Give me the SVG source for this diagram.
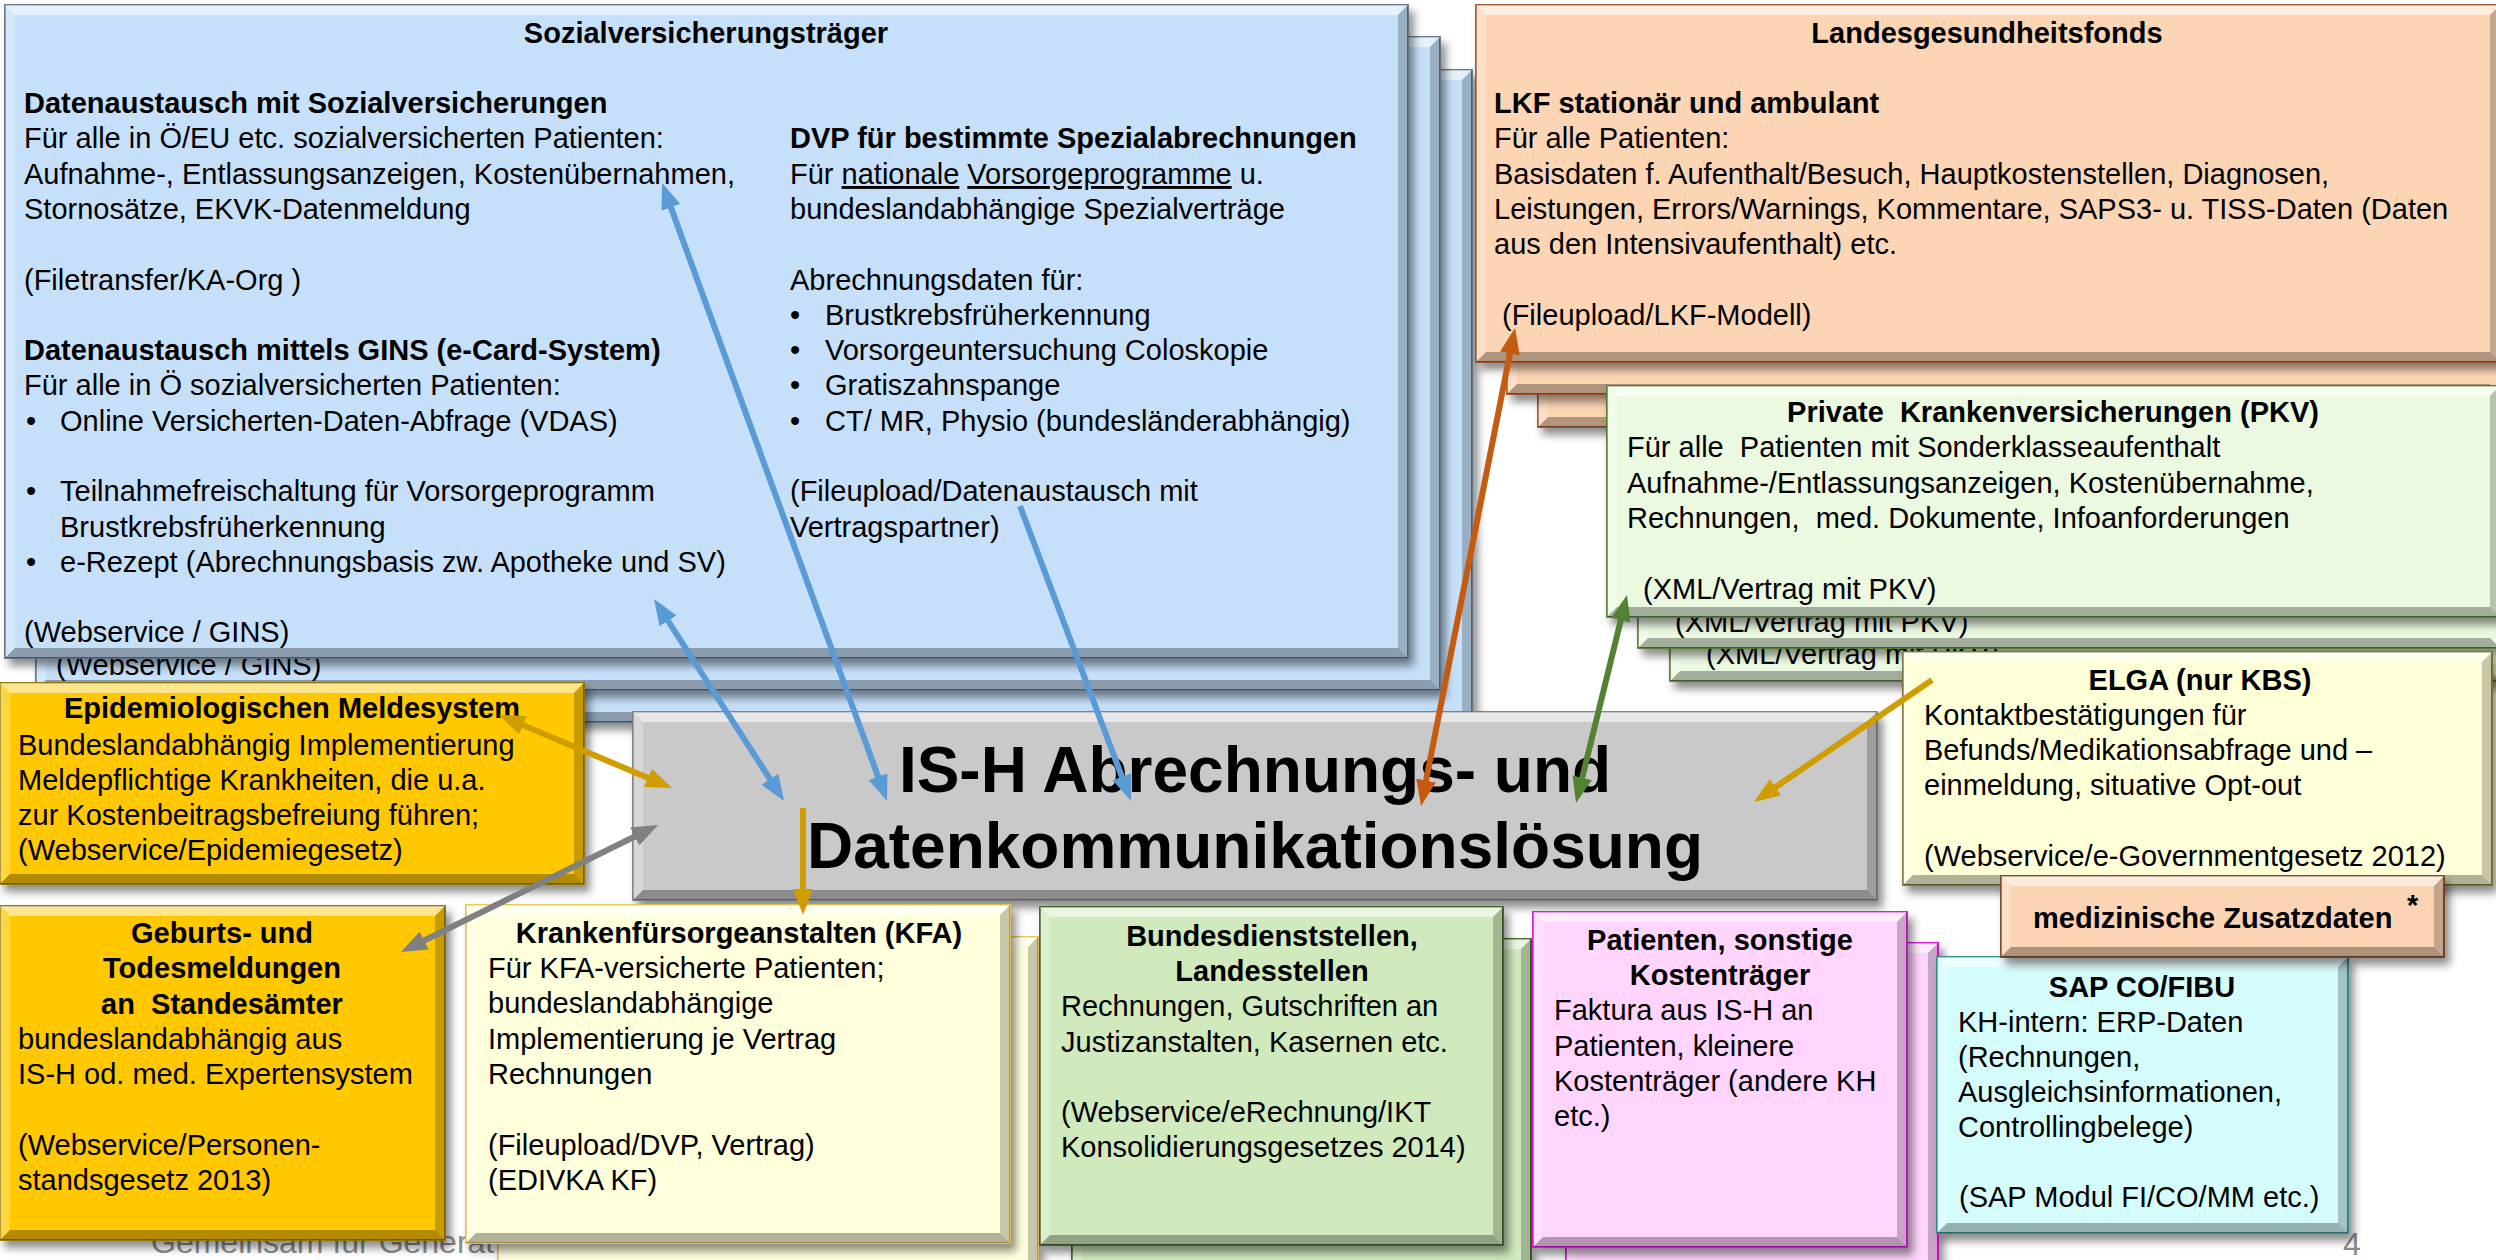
<svg xmlns="http://www.w3.org/2000/svg" width="2496" height="1260" viewBox="0 0 2496 1260">
<style>
svg{font-family:"Liberation Sans",Arial,sans-serif;font-size:29px}
text{fill:#000}
.b{font-weight:bold}
.c{text-anchor:middle}
.big{font-size:64px;font-weight:bold;text-anchor:middle}
.ft{fill:#8a8a8a;font-size:32px}
.box{stroke-width:1.8;filter:url(#sh)}
.bt{fill:#fff;opacity:.55}
.bl{fill:#fff;opacity:.25}
.br{fill:#000;opacity:.22}
.bb{fill:#000;opacity:.3}
.blue{fill:#C6E0F9;stroke:#5F6F80}
.org{fill:#FCD5B4;stroke:#9A4E26}
.grn{fill:#EBF9E1;stroke:#4E7A2E}
.ylw{fill:#FFFFD7;stroke:#7F6F30}
.med{fill:#FBD4B4;stroke:#7B3F1E}
.cyan{fill:#D5FCFC;stroke:#2D8C8C}
.pink{fill:#FFD5FD;stroke:#E000E0}
.dgrn{fill:#D0EABD;stroke:#355E20}
.kfa{fill:#FFFFDC;stroke:#E8C050}
.gold{fill:#FFC800;stroke:#8C7000}
.gray{fill:#C9C9C9;stroke:#7A7A7A}
.ln{fill:none;stroke-width:6}
.u{text-decoration:underline}
</style>
<defs>
<filter id="sh" x="-5%" y="-5%" width="115%" height="125%">
<feDropShadow dx="5" dy="7" stdDeviation="4" flood-color="#000" flood-opacity="0.45"/>
</filter>
<marker id="mBlue" viewBox="0 0 26 20" refX="8" refY="10" markerWidth="26" markerHeight="20" markerUnits="userSpaceOnUse" orient="auto-start-reverse"><path d="M0,0 L26,10 L0,20 z" fill="#5B9BD5"/></marker>
<marker id="mRust" viewBox="0 0 26 20" refX="8" refY="10" markerWidth="26" markerHeight="20" markerUnits="userSpaceOnUse" orient="auto-start-reverse"><path d="M0,0 L26,10 L0,20 z" fill="#C55A11"/></marker>
<marker id="mGreen" viewBox="0 0 26 20" refX="8" refY="10" markerWidth="26" markerHeight="20" markerUnits="userSpaceOnUse" orient="auto-start-reverse"><path d="M0,0 L26,10 L0,20 z" fill="#548235"/></marker>
<marker id="mGold" viewBox="0 0 26 20" refX="8" refY="10" markerWidth="26" markerHeight="20" markerUnits="userSpaceOnUse" orient="auto-start-reverse"><path d="M0,0 L26,10 L0,20 z" fill="#D09D00"/></marker>
<marker id="mGray" viewBox="0 0 26 20" refX="8" refY="10" markerWidth="26" markerHeight="20" markerUnits="userSpaceOnUse" orient="auto-start-reverse"><path d="M0,0 L26,10 L0,20 z" fill="#808080"/></marker>
</defs>

<rect x="0" y="0" width="2496" height="1260" fill="#fff"/>

<text class="ft" x="151" y="1253">Gemeinsam für Generat</text>
<text class="ft" x="2343" y="1255">4</text>

<!-- Sozialversicherungsträger stack -->
<g id="sv-stack3">
<rect class="box blue" x="67" y="70" width="1405" height="652"/>
<polygon class="bt" points="67,70 1472,70 1462,80 77,80"/>
<polygon class="bl" points="67,70 77,80 77,712 67,722"/>
<polygon class="br" points="1472,70 1472,722 1462,712 1462,80"/>
<polygon class="bb" points="67,722 1472,722 1462,712 77,712"/>
</g>
<g id="sv-stack2">
<rect class="box blue" x="36" y="37" width="1404" height="653"/>
<polygon class="bt" points="36,37 1440,37 1430,47 46,47"/>
<polygon class="bl" points="36,37 46,47 46,680 36,690"/>
<polygon class="br" points="1440,37 1440,690 1430,680 1430,47"/>
<polygon class="bb" points="36,690 1440,690 1430,680 46,680"/>
<text x="56" y="675">(Webservice / GINS)</text>
</g>
<g id="sozialversicherungstraeger">
<rect class="box blue" x="5" y="5" width="1403" height="653"/>
<polygon class="bt" points="5,5 1408,5 1398,15 15,15"/>
<polygon class="bl" points="5,5 15,15 15,648 5,658"/>
<polygon class="br" points="1408,5 1408,658 1398,648 1398,15"/>
<polygon class="bb" points="5,658 1408,658 1398,648 15,648"/>
<text class="b c" x="706" y="43">Sozialversicherungsträger</text>
<text class="b" x="24" y="113">Datenaustausch mit Sozialversicherungen</text>
<text x="24" y="148">Für alle in Ö/EU etc. sozialversicherten Patienten:</text>
<text x="24" y="184">Aufnahme-, Entlassungsanzeigen, Kostenübernahmen,</text>
<text x="24" y="219">Stornosätze, EKVK-Datenmeldung</text>
<text x="24" y="290">(Filetransfer/KA-Org )</text>
<text class="b" x="24" y="360">Datenaustausch mittels GINS (e-Card-System)</text>
<text x="24" y="395">Für alle in Ö sozialversicherten Patienten:</text>
<text x="26" y="431">•</text><text x="60" y="431">Online Versicherten-Daten-Abfrage (VDAS)</text>
<text x="26" y="501">•</text><text x="60" y="501">Teilnahmefreischaltung für Vorsorgeprogramm</text>
<text x="60" y="537">Brustkrebsfrüherkennung</text>
<text x="26" y="572">•</text><text x="60" y="572">e-Rezept (Abrechnungsbasis zw. Apotheke und SV)</text>
<text x="24" y="642">(Webservice / GINS)</text>
<text class="b" x="790" y="148">DVP für bestimmte Spezialabrechnungen</text>
<text x="790" y="184">Für <tspan class="u">nationale</tspan> <tspan class="u">Vorsorgeprogramme</tspan> u.</text>
<text x="790" y="219">bundeslandabhängige Spezialverträge</text>
<text x="790" y="290">Abrechnungsdaten für:</text>
<text x="790" y="325">•</text><text x="825" y="325">Brustkrebsfrüherkennung</text>
<text x="790" y="360">•</text><text x="825" y="360">Vorsorgeuntersuchung Coloskopie</text>
<text x="790" y="395">•</text><text x="825" y="395">Gratiszahnspange</text>
<text x="790" y="431">•</text><text x="825" y="431">CT/ MR, Physio (bundesländerabhängig)</text>
<text x="790" y="501">(Fileupload/Datenaustausch mit</text>
<text x="790" y="537">Vertragspartner)</text>
</g>

<!-- Landesgesundheitsfonds stack -->
<g id="lgf-stack3">
<rect class="box org" x="1538" y="70" width="962" height="357"/>
<polygon class="bt" points="1538,70 2500,70 2490,80 1548,80"/>
<polygon class="bl" points="1538,70 1548,80 1548,417 1538,427"/>
<polygon class="bb" points="1538,427 2500,427 2490,417 1548,417"/>
</g>
<g id="lgf-stack2">
<rect class="box org" x="1507" y="37" width="993" height="357"/>
<polygon class="bt" points="1507,37 2500,37 2490,47 1517,47"/>
<polygon class="bl" points="1507,37 1517,47 1517,384 1507,394"/>
<polygon class="bb" points="1507,394 2500,394 2490,384 1517,384"/>
</g>
<g id="landesgesundheitsfonds">
<rect class="box org" x="1476" y="5" width="1024" height="357"/>
<polygon class="bt" points="1476,5 2500,5 2490,15 1486,15"/>
<polygon class="bl" points="1476,5 1486,15 1486,352 1476,362"/>
<polygon class="br" points="2500,5 2500,362 2490,352 2490,15"/>
<polygon class="bb" points="1476,362 2500,362 2490,352 1486,352"/>
<text class="b c" x="1987" y="43">Landesgesundheitsfonds</text>
<text class="b" x="1494" y="113">LKF stationär und ambulant</text>
<text x="1494" y="148">Für alle Patienten:</text>
<text x="1494" y="184">Basisdaten f. Aufenthalt/Besuch, Hauptkostenstellen, Diagnosen,</text>
<text x="1494" y="219">Leistungen, Errors/Warnings, Kommentare, SAPS3- u. TISS-Daten (Daten</text>
<text x="1494" y="254">aus den Intensivaufenthalt) etc.</text>
<text x="1502" y="325">(Fileupload/LKF-Modell)</text>
</g>

<!-- PKV stack -->
<g id="pkv-stack3">
<rect class="box grn" x="1670" y="451" width="830" height="230"/>
<polygon class="bt" points="1670,451 2500,451 2490,461 1680,461"/>
<polygon class="bl" points="1670,451 1680,461 1680,671 1670,681"/>
<polygon class="bb" points="1670,681 2500,681 2490,671 1680,671"/>
<text x="1706" y="664">(XML/Vertrag mit PKV)</text>
</g>
<g id="pkv-stack2">
<rect class="box grn" x="1638" y="418" width="862" height="230"/>
<polygon class="bt" points="1638,418 2500,418 2490,428 1648,428"/>
<polygon class="bl" points="1638,418 1648,428 1648,638 1638,648"/>
<polygon class="bb" points="1638,648 2500,648 2490,638 1648,638"/>
<text x="1675" y="632">(XML/Vertrag mit PKV)</text>
</g>
<g id="pkv">
<rect class="box grn" x="1607" y="386" width="893" height="231"/>
<polygon class="bt" points="1607,386 2500,386 2490,396 1617,396"/>
<polygon class="bl" points="1607,386 1617,396 1617,607 1607,617"/>
<polygon class="br" points="2500,386 2500,617 2490,607 2490,396"/>
<polygon class="bb" points="1607,617 2500,617 2490,607 1617,607"/>
<text class="b c" x="2053" y="422" xml:space="preserve">Private  Krankenversicherungen (PKV)</text>
<text x="1627" y="457" xml:space="preserve">Für alle  Patienten mit Sonderklasseaufenthalt</text>
<text x="1627" y="493">Aufnahme-/Entlassungsanzeigen, Kostenübernahme,</text>
<text x="1627" y="528" xml:space="preserve">Rechnungen,  med. Dokumente, Infoanforderungen</text>
<text x="1643" y="599">(XML/Vertrag mit PKV)</text>
</g>

<!-- ELGA -->
<g id="elga">
<rect class="box ylw" x="1903" y="652" width="589" height="233"/>
<polygon class="bt" points="1903,652 2492,652 2482,662 1913,662"/>
<polygon class="bl" points="1903,652 1913,662 1913,875 1903,885"/>
<polygon class="br" points="2492,652 2492,885 2482,875 2482,662"/>
<polygon class="bb" points="1903,885 2492,885 2482,875 1913,875"/>
<text class="b c" x="2200" y="690">ELGA (nur KBS)</text>
<text x="1924" y="725">Kontaktbestätigungen für</text>
<text x="1924" y="760">Befunds/Medikationsabfrage und –</text>
<text x="1924" y="795">einmeldung, situative Opt-out</text>
<text x="1924" y="866">(Webservice/e-Governmentgesetz 2012)</text>
</g>

<!-- IS-H -->
<g id="ish">
<rect class="box gray" x="633" y="712" width="1244" height="188"/>
<polygon class="bt" points="633,712 1877,712 1867,722 643,722"/>
<polygon class="bl" points="633,712 643,722 643,890 633,900"/>
<polygon class="br" points="1877,712 1877,900 1867,890 1867,722"/>
<polygon class="bb" points="633,900 1877,900 1867,890 643,890"/>
<text class="big" x="1255" y="792">IS-H Abrechnungs- und</text>
<text class="big" x="1255" y="868">Datenkommunikationslösung</text>
</g>

<!-- Epidemiologisches Meldesystem -->
<g id="epi">
<rect class="box gold" x="0" y="683" width="584" height="201"/>
<polygon class="bt" points="0,683 584,683 574,693 10,693"/>
<polygon class="bl" points="0,683 10,693 10,874 0,884"/>
<polygon class="br" points="584,683 584,884 574,874 574,693"/>
<polygon class="bb" points="0,884 584,884 574,874 10,874"/>
<text class="b c" x="292" y="718">Epidemiologischen Meldesystem</text>
<text x="18" y="755">Bundeslandabhängig Implementierung</text>
<text x="18" y="790">Meldepflichtige Krankheiten, die u.a.</text>
<text x="18" y="825">zur Kostenbeitragsbefreiung führen;</text>
<text x="18" y="860">(Webservice/Epidemiegesetz)</text>
</g>

<!-- Geburts- und Todesmeldungen -->
<g id="geburt">
<rect class="box gold" x="0" y="906" width="445" height="334"/>
<polygon class="bt" points="0,906 445,906 435,916 10,916"/>
<polygon class="bl" points="0,906 10,916 10,1230 0,1240"/>
<polygon class="br" points="445,906 445,1240 435,1230 435,916"/>
<polygon class="bb" points="0,1240 445,1240 435,1230 10,1230"/>
<text class="b c" x="222" y="943">Geburts- und</text>
<text class="b c" x="222" y="978">Todesmeldungen</text>
<text class="b c" x="222" y="1014" xml:space="preserve">an  Standesämter</text>
<text x="18" y="1049">bundeslandabhängig aus</text>
<text x="18" y="1084">IS-H od. med. Expertensystem</text>
<text x="18" y="1155">(Webservice/Personen-</text>
<text x="18" y="1190">standsgesetz 2013)</text>
</g>

<!-- KFA -->
<g id="kfa-stack2">
<rect class="box kfa" x="498" y="937" width="540" height="353"/>
<polygon class="bt" points="498,937 1038,937 1028,947 508,947"/>
<polygon class="bl" points="498,937 508,947 508,1280 498,1290"/>
<polygon class="br" points="1038,937 1038,1290 1028,1280 1028,947"/>
</g>
<g id="kfa">
<rect class="box kfa" x="466" y="905" width="544" height="338"/>
<polygon class="bt" points="466,905 1010,905 1000,915 476,915"/>
<polygon class="bl" points="466,905 476,915 476,1233 466,1243"/>
<polygon class="br" points="1010,905 1010,1243 1000,1233 1000,915"/>
<polygon class="bb" points="466,1243 1010,1243 1000,1233 476,1233"/>
<text class="b c" x="739" y="943">Krankenfürsorgeanstalten (KFA)</text>
<text x="488" y="978">Für KFA-versicherte Patienten;</text>
<text x="488" y="1013">bundeslandabhängige</text>
<text x="488" y="1049">Implementierung je Vertrag</text>
<text x="488" y="1084">Rechnungen</text>
<text x="488" y="1155">(Fileupload/DVP, Vertrag)</text>
<text x="488" y="1190">(EDIVKA KF)</text>
</g>

<!-- Bundesdienststellen -->
<g id="bund-stack2">
<rect class="box dgrn" x="1072" y="939" width="459" height="351"/>
<polygon class="bt" points="1072,939 1531,939 1521,949 1082,949"/>
<polygon class="bl" points="1072,939 1082,949 1082,1280 1072,1290"/>
<polygon class="br" points="1531,939 1531,1290 1521,1280 1521,949"/>
</g>
<g id="bundesdienststellen">
<rect class="box dgrn" x="1040" y="907" width="463" height="338"/>
<polygon class="bt" points="1040,907 1503,907 1493,917 1050,917"/>
<polygon class="bl" points="1040,907 1050,917 1050,1235 1040,1245"/>
<polygon class="br" points="1503,907 1503,1245 1493,1235 1493,917"/>
<polygon class="bb" points="1040,1245 1503,1245 1493,1235 1050,1235"/>
<text class="b c" x="1272" y="946">Bundesdienststellen,</text>
<text class="b c" x="1272" y="981">Landesstellen</text>
<text x="1061" y="1016">Rechnungen, Gutschriften an</text>
<text x="1061" y="1052">Justizanstalten, Kasernen etc.</text>
<text x="1061" y="1122">(Webservice/eRechnung/IKT</text>
<text x="1061" y="1157">Konsolidierungsgesetzes 2014)</text>
</g>

<!-- Patienten -->
<g id="pat-stack2">
<rect class="box pink" x="1566" y="943" width="372" height="347"/>
<polygon class="bt" points="1566,943 1938,943 1928,953 1576,953"/>
<polygon class="bl" points="1566,943 1576,953 1576,1280 1566,1290"/>
<polygon class="br" points="1938,943 1938,1290 1928,1280 1928,953"/>
</g>
<g id="patienten">
<rect class="box pink" x="1533" y="912" width="374" height="335"/>
<polygon class="bt" points="1533,912 1907,912 1897,922 1543,922"/>
<polygon class="bl" points="1533,912 1543,922 1543,1237 1533,1247"/>
<polygon class="br" points="1907,912 1907,1247 1897,1237 1897,922"/>
<polygon class="bb" points="1533,1247 1907,1247 1897,1237 1543,1237"/>
<text class="b c" x="1720" y="950">Patienten, sonstige</text>
<text class="b c" x="1720" y="985">Kostenträger</text>
<text x="1554" y="1020">Faktura aus IS-H an</text>
<text x="1554" y="1056">Patienten, kleinere</text>
<text x="1554" y="1091">Kostenträger (andere KH</text>
<text x="1554" y="1126">etc.)</text>
</g>

<!-- SAP -->
<g id="sap">
<rect class="box cyan" x="1937" y="957" width="411" height="276"/>
<polygon class="bt" points="1937,957 2348,957 2338,967 1947,967"/>
<polygon class="bl" points="1937,957 1947,967 1947,1223 1937,1233"/>
<polygon class="br" points="2348,957 2348,1233 2338,1223 2338,967"/>
<polygon class="bb" points="1937,1233 2348,1233 2338,1223 1947,1223"/>
<text class="b c" x="2142" y="997">SAP CO/FIBU</text>
<text x="1958" y="1032">KH-intern: ERP-Daten</text>
<text x="1958" y="1067">(Rechnungen,</text>
<text x="1958" y="1102">Ausgleichsinformationen,</text>
<text x="1958" y="1137">Controllingbelege)</text>
<text x="1959" y="1207">(SAP Modul FI/CO/MM etc.)</text>
</g>

<!-- medizinische Zusatzdaten -->
<g id="med">
<rect class="box med" x="2001" y="876" width="443" height="81"/>
<polygon class="bt" points="2001,876 2444,876 2434,886 2011,886"/>
<polygon class="bl" points="2001,876 2011,886 2011,947 2001,957"/>
<polygon class="br" points="2444,876 2444,957 2434,947 2434,886"/>
<polygon class="bb" points="2001,957 2444,957 2434,947 2011,947"/>
<text class="b" x="2033" y="928">medizinische Zusatzdaten</text>
<text class="b" x="2407" y="915">*</text>
</g>

<!-- connectors -->
<g id="connectors">
<line class="ln" x1="668.2" y1="199.9" x2="880.8" y2="784.1" stroke="#5B9BD5" marker-start="url(#mBlue)" marker-end="url(#mBlue)"/>
<line class="ln" x1="663.7" y1="614.1" x2="774.3" y2="785.9" stroke="#5B9BD5" marker-start="url(#mBlue)" marker-end="url(#mBlue)"/>
<line class="ln" x1="1020" y1="506" x2="1124.7" y2="784.2" stroke="#5B9BD5" marker-end="url(#mBlue)"/>
<line class="ln" x1="1511.5" y1="345.7" x2="1424.5" y2="788.3" stroke="#C55A11" marker-start="url(#mRust)" marker-end="url(#mRust)"/>
<line class="ln" x1="1622.7" y1="612.5" x2="1580.3" y2="785.5" stroke="#548235" marker-start="url(#mGreen)" marker-end="url(#mGreen)"/>
<line class="ln" x1="1932" y1="680" x2="1768.8" y2="791.8" stroke="#D09D00" marker-end="url(#mGold)"/>
<line class="ln" x1="515.6" y1="722" x2="655.4" y2="781" stroke="#D09D00" marker-start="url(#mGold)" marker-end="url(#mGold)"/>
<line class="ln" x1="641.9" y1="833" x2="417.1" y2="944" stroke="#808080" marker-start="url(#mGray)" marker-end="url(#mGray)"/>
<line class="ln" x1="803" y1="808" x2="803" y2="897" stroke="#D09D00" marker-end="url(#mGold)"/>
</g>
</svg>
